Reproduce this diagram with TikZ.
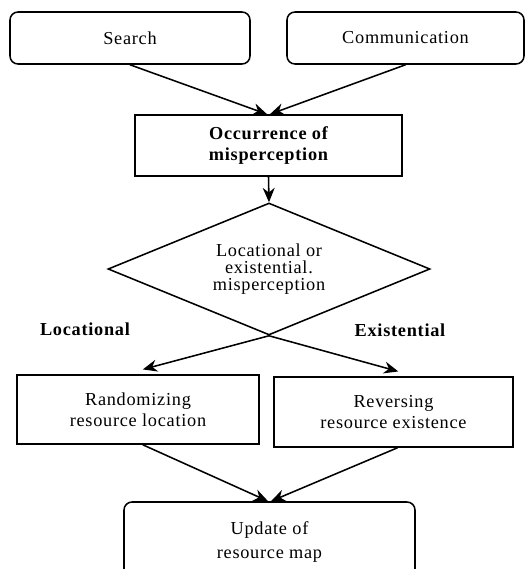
\documentclass[tikz,border=0pt]{standalone}
\usepackage{fontspec}
\setmainfont[LetterSpace=4]{Liberation Serif}
\usetikzlibrary{positioning,arrows.meta,shapes.geometric}

\begin{document}
\begin{tikzpicture}[>={Stealth[length=3.6mm,width=3mm]},line width=1.1pt]
	\tikzset{rbox/.style={draw,rounded corners=0.2cm,align=center,font=\fontsize{13}{15}\selectfont},
		sbox/.style={draw,align=center,font=\fontsize{13}{15}\selectfont},
		tag/.style={font=\fontsize{13}{15}\selectfont\bfseries}}
	\useasboundingbox (0,0) rectangle (13.175,-14.225);

	\node[rbox,minimum width=6cm,minimum height=1.3cm] (search) at (3.25,-0.95) {Search};
	\node[rbox,minimum width=5.925cm,minimum height=1.3cm] (comm) at (10.1375,-0.95) {Communication};
	\node[sbox,minimum width=6.675cm,minimum height=1.525cm,font=\fontsize{13}{15.5}\selectfont\bfseries] (occ) at (6.7125,-3.6375) {Occurrence of\\misperception};
	\node[draw,diamond,aspect=2.44,inner sep=0pt,minimum width=8.05cm,minimum height=3.3cm,align=center,font=\fontsize{13}{12}\selectfont] (decide) at (6.725,-6.725) {Locational or\\existential.\\misperception};

	%% Branch labels
	\node[tag] (loc) at (2.125,-8.225) {Locational};
	\node[tag] (exi) at (10.0,-8.25) {Existential};

	\node[sbox,minimum width=6.05cm,minimum height=1.725cm] (rand) at (3.45,-10.2375) {Randomizing\\resource location};
	\node[sbox,minimum width=5.975cm,minimum height=1.75cm] (rev) at (9.8375,-10.3) {Reversing\\resource existence};
	\node[rbox,minimum width=7.275cm,minimum height=2cm,font=\fontsize{13}{17.5}\selectfont] (upd) at (6.7375,-13.55) {Update of\\resource map};

	\path[->]
		(search.south) edge ([xshift=-1pt]occ.north)
		(comm.south) edge ([xshift=1pt]occ.north)
		(occ.south) edge (decide.north)
		(decide.south) edge ([xshift=0.12cm,yshift=0.12cm]rand.north)
		(decide.south) edge ([xshift=0.12cm,yshift=0.12cm]rev.north)
		([xshift=0.12cm]rand.south) edge ([xshift=-1pt]upd.north)
		([xshift=0.1cm]rev.south) edge ([xshift=1pt]upd.north);
\end{tikzpicture}
\end{document}
